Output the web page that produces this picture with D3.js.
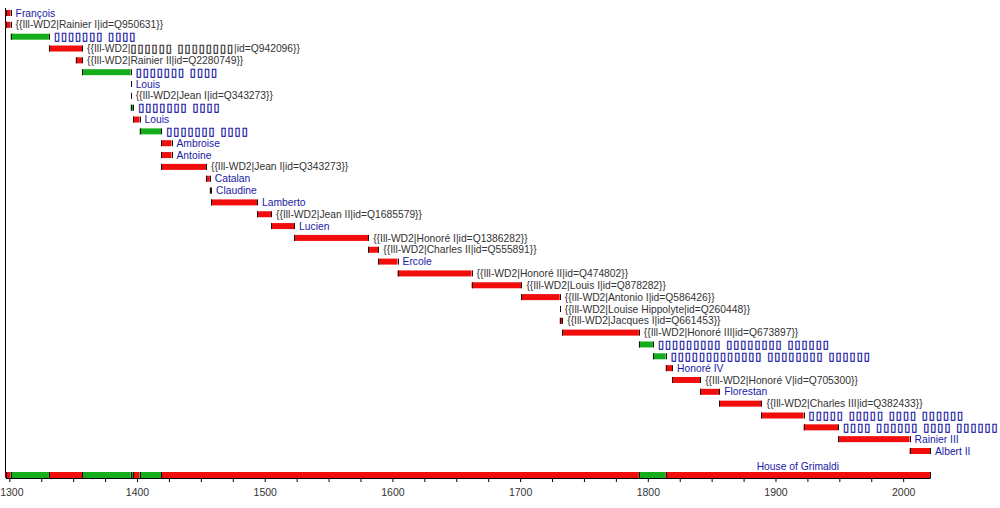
<!DOCTYPE html>
<html>
<head>
<meta charset="utf-8">
<script src="https://cdn.jsdelivr.net/npm/d3@7"></script>
<style>
  body { margin: 0; background: #fff; }
  svg { display: block; font-family: "Liberation Sans", Arial, sans-serif; }
  .axis text { fill: #333; font-size: 10.5px; }
  .axis path, .axis line { stroke: #000; }
  .tofu { font-family: "DejaVu Sans", sans-serif; font-weight: bold; font-size: 11px; letter-spacing: 1px; stroke-width: 0.4px; }
</style>
</head>
<body>
<div id="chart"></div>
<script>
// one row per ruler / period
const rulers = [
  "François",
  "{{Ill-WD2|Rainier I|id=Q950631}}",
  "▯▯▯▯▯▯▯ ▯▯▯▯",
  "{{Ill-WD2|▯▯▯▯▯▯ ▯▯▯▯▯▯▯▯|id=Q942096}}",
  "{{Ill-WD2|Rainier II|id=Q2280749}}",
  "▯▯▯▯▯▯▯ ▯▯▯▯",
  "Louis",
  "{{Ill-WD2|Jean I|id=Q343273}}",
  "▯▯▯▯▯▯▯ ▯▯▯▯",
  "Louis",
  "▯▯▯▯▯▯▯ ▯▯▯▯",
  "Ambroise",
  "Antoine",
  "{{Ill-WD2|Jean I|id=Q343273}}",
  "Catalan",
  "Claudine",
  "Lamberto",
  "{{Ill-WD2|Jean II|id=Q1685579}}",
  "Lucien",
  "{{Ill-WD2|Honoré I|id=Q1386282}}",
  "{{Ill-WD2|Charles II|id=Q555891}}",
  "Ercole",
  "{{Ill-WD2|Honoré II|id=Q474802}}",
  "{{Ill-WD2|Louis I|id=Q878282}}",
  "{{Ill-WD2|Antonio I|id=Q586426}}",
  "{{Ill-WD2|Louise Hippolyte|id=Q260448}}",
  "{{Ill-WD2|Jacques I|id=Q661453}}",
  "{{Ill-WD2|Honoré III|id=Q673897}}",
  "▯▯▯▯▯▯▯▯▯ ▯▯▯▯▯▯▯▯ ▯▯▯▯▯▯",
  "▯▯▯▯▯▯▯▯▯▯▯▯▯ ▯▯▯▯▯▯▯▯ ▯▯▯▯▯▯",
  "Honoré IV",
  "{{Ill-WD2|Honoré V|id=Q705300}}",
  "Florestan",
  "{{Ill-WD2|Charles III|id=Q382433}}",
  "▯▯▯▯▯ ▯▯▯▯▯ ▯▯▯▯ ▯▯▯▯▯▯",
  "▯▯▯▯ ▯▯▯▯▯▯ ▯▯▯▯ ▯▯▯▯▯▯",
  "Rainier III",
  "Albert II"
];
const reignStart = [1297, 1297, 1301, 1331, 1352, 1357, 1395, 1395, 1395, 1397, 1402, 1419, 1419,
  1419, 1454, 1457, 1458, 1494, 1505, 1523, 1581, 1589, 1604, 1662, 1701, 1731, 1731, 1733,
  1793, 1804, 1814, 1819, 1841, 1856, 1889, 1922, 1949, 2005];
const reignEnd = [1301, 1301, 1331, 1357, 1357, 1395, 1395, 1395, 1397, 1402, 1419, 1427, 1427,
  1454, 1457, 1458, 1494, 1505, 1523, 1581, 1589, 1604, 1662, 1701, 1731, 1731, 1733, 1793,
  1804, 1814, 1819, 1841, 1856, 1889, 1922, 1949, 2005, 2021];
// G = Grimaldi, X = other rule
const reignKind = ["G", "G", "X", "G", "G", "X", "G", "G", "X", "G", "X", "G", "G",
  "G", "G", "G", "G", "G", "G", "G", "G", "G", "G", "G", "G", "G", "G", "G",
  "X", "X", "G", "G", "G", "G", "G", "G", "G", "G"];

// bottom summary bar
const periodStart = [1297, 1301, 1331, 1357, 1395, 1395, 1397, 1402, 1419, 1793, 1814];
const periodEnd   = [1301, 1331, 1357, 1395, 1395, 1397, 1402, 1419, 1793, 1814, 2021];
const periodKind  = ["G", "X", "G", "X", "G", "X", "G", "X", "G", "X", "G"];
const periodLabel = ["", "", "", "", "", "", "", "", "", "", "House of Grimaldi"];

const centuryTicks = [1300, 1400, 1500, 1600, 1700, 1800, 1900, 2000];

const width = 1000, height = 508;

const rows = rulers.map((name, i) => ({
  name, start: reignStart[i], end: reignEnd[i], kind: reignKind[i], row: i
}));
const periods = periodStart.map((s, i) => ({
  start: s, end: periodEnd[i], kind: periodKind[i], label: periodLabel[i]
}));

const x = d3.scaleLinear().domain([1297, 2021]).range([5.5, 930]);
const y = d3.scalePoint().domain(d3.range(rows.length)).range([13, 451]);
const color = d3.scaleOrdinal().domain(["G", "X"]).range(["#f20d0d", "#16ad1d"]);

const barH = 6;
const axisY = 478;

const svg = d3.select("#chart").append("svg")
  .attr("width", width)
  .attr("height", height);

svg.append("rect").attr("width", width).attr("height", height).attr("fill", "#fff");

// left frame line
svg.append("line")
  .attr("x1", x(1297)).attr("x2", x(1297))
  .attr("y1", 8).attr("y2", axisY)
  .attr("stroke", "#000");

function drawBars(g, data, yOf) {
  g.selectAll("rect.bar")
    .data(data)
    .enter()
    .append("rect")
    .attr("class", "bar")
    .attr("x", d => x(d.start))
    .attr("y", d => yOf(d) - barH / 2)
    .attr("width", d => x(d.end) - x(d.start))
    .attr("height", barH)
    .attr("fill", d => color(d.kind));

  // dark edges at both ends of each bar
  g.selectAll("line.edge")
    .data(data.flatMap(d => [
      { at: d.start, d }, { at: d.end, d }
    ]))
    .enter()
    .append("line")
    .attr("class", "edge")
    .attr("x1", e => Math.round(x(e.at)) + 0.5)
    .attr("x2", e => Math.round(x(e.at)) + 0.5)
    .attr("y1", e => yOf(e.d) - barH / 2)
    .attr("y2", e => yOf(e.d) + barH / 2)
    .attr("stroke", "#111")
    .attr("stroke-width", 1);
}

const rowG = svg.append("g");
drawBars(rowG, rows, d => y(d.row));

// labels; runs of missing-glyph boxes get their own tspan
rowG.selectAll("text.name")
  .data(rows)
  .enter()
  .append("text")
  .attr("class", "name")
  .attr("x", d => x(d.end) + 5)
  .attr("y", d => y(d.row) + 3.6)
  .attr("font-size", "10.3px")
  .attr("fill", d => d.name.startsWith("{{") ? "#333" : "#1a1aa6")
  .selectAll("tspan")
  .data(d => d.name.split(/(▯[▯ ]*▯|▯)/).filter(s => s))
  .enter()
  .append("tspan")
  .attr("class", s => s.includes("▯") ? "tofu" : null)
  .attr("stroke", function (s) {
    return s.includes("▯") ? this.parentNode.getAttribute("fill") : null;
  })
  .text(s => s);

// summary bar
const sumY = axisY - barH / 2;
const sumG = svg.append("g");
drawBars(sumG, periods, d => sumY);

sumG.selectAll("text.period")
  .data(periods.filter(d => d.label))
  .enter()
  .append("text")
  .attr("class", "period")
  .attr("x", d => x((d.start + d.end) / 2))
  .attr("y", sumY - 9)
  .attr("dy", "0.35em")
  .attr("text-anchor", "middle")
  .attr("font-size", "10.3px")
  .attr("fill", "#1a1aa6")
  .text(d => d.label);

// axis
const axisG = svg.append("g")
  .attr("class", "axis")
  .attr("transform", `translate(0, ${axisY})`)
  .call(
    d3.axisBottom(x)
      .tickValues(d3.range(1300, 2001, 25))
      .tickSize(4)
      .tickSizeOuter(0)
      .tickPadding(7)
      .tickFormat(d => centuryTicks.includes(d) ? d : "")
  );

// keep the first year label inside the page
axisG.selectAll(".tick text")
  .filter(d => d === 1300)
  .attr("x", 2);
</script>
</body>
</html>
